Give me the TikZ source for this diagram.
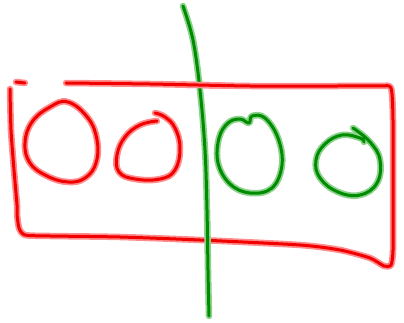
\documentclass[tikz,border=0pt]{standalone}
\begin{document}
\begin{tikzpicture}[x=1pt,y=-1pt,line cap=round,line join=round,
  redpen/.style={draw=red!95!black, line width=3pt,
    preaction={draw=red!45, line width=6.5pt}},
  greenpen/.style={draw=green!55!black, line width=3pt,
    preaction={draw=green!60!black!45, line width=6.5pt}}]
\useasboundingbox (0,0) rectangle (404,323);
\def\framepath{plot[smooth, tension=0.4] coordinates {(66,83) (150,84) (250,86) (340,86) (380,86) (391,88) (393,120) (393,200) (393,250) (391,265) (384,266) (370,258) (340,250) (300,245) (200,240) (120,237) (50,236) (25,235) (19,228) (17,214) (17,205) (14,170) (11,130) (10,89)}}
% red frame
\draw[redpen] (16,82) -- (25,83);
\draw[redpen] \framepath;
% green divider
\draw[greenpen] plot[smooth, tension=0.6] coordinates {(183,6) (193,40) (200,90) (205,150) (207,210) (208,270) (209,316)};
% red top stroke over the divider
\begin{scope}
\clip (180,60) rectangle (225,110);
\draw[redpen] \framepath;
\end{scope}
% green circles
\draw[greenpen] plot[smooth cycle, tension=0.65] coordinates {(249,123) (252,116) (265,118) (278,138) (282,165) (272,188) (250,193) (230,184) (218,163) (219,138) (228,123) (240,119)};
\draw[greenpen] plot[smooth, tension=0.7] coordinates {(353,128) (370,142) (380,160) (377,183) (360,195) (338,192) (320,178) (316,160) (325,144) (342,135) (360,138) (364,142)};
% red circles
\draw[redpen] plot[smooth cycle, tension=0.7] coordinates {(68,102) (88,118) (97,140) (96,163) (85,178) (68,182) (47,176) (30,163) (25,143) (32,122) (50,107)};
\draw[redpen] plot[smooth, tension=0.7] coordinates {(157,121) (140,125) (125,137) (117,155) (119,172) (135,179) (160,179) (175,170) (180,148) (175,128) (165,117) (155,113)};
\end{tikzpicture}
\end{document}
